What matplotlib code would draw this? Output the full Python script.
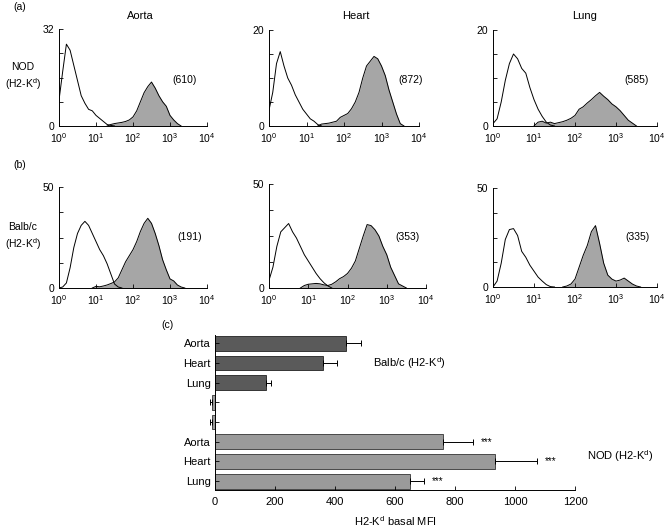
import numpy as np
import matplotlib
matplotlib.use("Agg")
import matplotlib.pyplot as plt

plt.rcParams['font.family'] = ['Liberation Sans', 'DejaVu Sans']
plt.rcParams['font.size'] = 7.5
plt.rcParams['mathtext.default'] = 'regular'

# histogram counts, one value per 0.1 log-decade channel, starting at channel `start`
a_aorta_ctrl = [8.5, 18, 27, 25, 20, 15, 10, 7.5, 5.5, 5, 3.5, 2.5, 1.5, 0.5, 0.2, 0]
a_aorta_pos = [0, 0.5, 0.8, 1.0, 1.2, 1.5, 2.0, 3.0, 5, 8, 11, 13, 14.5, 12.5, 10, 8, 6.5, 3.5, 2, 0.8, 0]
a_heart_ctrl = [3.3, 7, 13, 15.5, 12.5, 10, 8.5, 6.5, 5, 3.5, 2.5, 1.5, 1.0, 0.3, 0]
a_heart_pos = [0, 0.4, 0.5, 0.6, 0.8, 1.0, 1.8, 2.2, 2.6, 3.6, 5.0, 7.0, 10, 12.5, 13.5, 14.5, 14,
               12.5, 10.5, 7.5, 5, 2.5, 0.5, 0]
a_lung_ctrl = [0.5, 1.5, 5, 9.5, 13, 15, 14, 12, 11, 8, 5.5, 3.5, 2, 0.8, 0.2, 0]
a_lung_pos = [0, 0.8, 1.0, 0.6, 0.8, 0.5, 0.7, 0.9, 1.2, 1.6, 2.2, 3.5, 4.0, 4.8, 5.5, 6.3, 7.0,
              6.2, 5.5, 4.6, 4.0, 3.2, 2.2, 1.2, 0.6, 0]
b_aorta_ctrl = [0, 0.5, 2.5, 10, 20, 27, 31, 33, 31, 27, 23, 19, 16, 12, 7, 2, 0.5, 0]
b_aorta_pos = [0, 0.8, 0.6, 1.0, 1.5, 2.2, 3, 5, 9, 13, 16, 19, 23, 28, 32, 34.5, 32, 27, 21, 14,
               9, 4.5, 3.5, 1.5, 0.5, 0]
b_heart_ctrl = [3.7, 10, 20, 27, 29, 31, 27, 24, 20, 16, 13, 10, 7, 4.5, 2.5, 1, 0]
b_heart_pos = [0, 1.2, 1.8, 2.0, 2.2, 2.0, 1.5, 1.2, 1.8, 3.0, 4.5, 5.5, 7, 9.5, 13, 19, 25, 30.5,
               30, 28, 25, 20, 16, 10, 6, 2, 1, 0]
b_lung_ctrl = [0, 3, 12, 24, 29, 29.5, 26, 18, 15, 11, 8, 5, 3, 1.2, 0.2, 0]
b_lung_pos = [0, 0.5, 1.5, 4, 10, 16, 21, 28, 31, 22, 12, 6, 4, 3, 3.5, 4.5, 3, 1.5, 0.5, 0]

panels_a = [("Aorta", a_aorta_ctrl, 0, a_aorta_pos, 13, 32, "(610)"),
            ("Heart", a_heart_ctrl, 0, a_heart_pos, 13, 20, "(872)"),
            ("Lung", a_lung_ctrl, 0, a_lung_pos, 10, 20, "(585)")]
panels_b = [(b_aorta_ctrl, 0, b_aorta_pos, 9, 50, "(191)"),
            (b_heart_ctrl, 0, b_heart_pos, 8, 50, "(353)"),
            (b_lung_ctrl, 0, b_lung_pos, 17, 50, "(335)")]

# bar chart data
tissues = ["Aorta", "Heart", "Lung"]
balbc_mfi = [435, 360, 170]
balbc_err = [50, 48, 15]
nod_mfi = [760, 933, 650]
nod_err = [100, 140, 47]
blank_mfi = [-10, -10]
blank_err = [8, 8]

W, H = 666, 529
fig = plt.figure(figsize=(W / 100, H / 100), dpi=100)


def px_axes(x0, y0, x1, y1):
    return fig.add_axes([x0 / W, 1 - y1 / H, (x1 - x0) / W, (y1 - y0) / H])


def ftext(x, y, s, **kw):
    fig.text(x / W, 1 - y / H, s, **kw)


def channels(counts, start):
    return 10 ** ((start + np.arange(len(counts))) / 10)


def hist_axes(ax, ctrl, c0, pos, p0, ymax):
    xp = channels(pos, p0)
    ax.fill_between(xp, pos, color='#a6a6a6', lw=0)
    ax.plot(xp, pos, color='black', lw=0.7)
    ax.plot(channels(ctrl, c0), ctrl, color='black', lw=0.7)
    ax.set_xscale('log')
    ax.set_xlim(1, 1e4)
    ax.set_ylim(0, ymax)
    ax.set_xticks([1, 10, 100, 1000, 10000])
    ax.minorticks_off()
    ax.set_yticks(np.linspace(0, ymax, 5))
    ax.set_yticklabels(['0', '', '', '', str(ymax)])
    ax.tick_params(direction='in', length=3, width=0.6)
    ax.tick_params(axis='x', pad=4)
    ax.tick_params(axis='y', pad=3.5)
    for s in ['top', 'right']:
        ax.spines[s].set_visible(False)
    for s in ['left', 'bottom']:
        ax.spines[s].set_linewidth(0.7)


# row (a)
boxes_a = [(59, 29, 207, 126), (269, 30, 419, 126), (493, 30, 657, 126)]
title_x = [140, 356, 585]
label_x_a = [185, 411, 637]
for (name, ctrl, c0, pos, p0, ymax, lab), box, tx, lx in zip(panels_a, boxes_a, title_x, label_x_a):
    ax = px_axes(*box)
    hist_axes(ax, ctrl, c0, pos, p0, ymax)
    ftext(tx, 16, name, ha='center', va='center', fontsize=8)
    ftext(lx, 80, lab, ha='center', va='center')

# row (b)
boxes_b = [(59, 187, 207, 288), (269, 184, 426, 288), (493, 188, 657, 287)]
label_x_b = [190, 407, 637]
for (ctrl, c0, pos, p0, ymax, lab), box, lx in zip(panels_b, boxes_b, label_x_b):
    ax = px_axes(*box)
    hist_axes(ax, ctrl, c0, pos, p0, ymax)
    ftext(lx, 237, lab, ha='center', va='center')

ftext(20, 7, "(a)", ha='center', va='center')
ftext(20, 165, "(b)", ha='center', va='center')
ftext(23, 77, "NOD\n(H2-K$^d$)", ha='center', va='center', linespacing=1.3)
ftext(23, 237, "Balb/c\n(H2-K$^d$)", ha='center', va='center', linespacing=1.3)
ftext(168, 325, "(c)", ha='center', va='center')

# panel (c) bar chart
axc = px_axes(215, 335, 575, 490)
ypos_b = np.arange(3)
ypos_blank = np.arange(3, 5)
ypos_n = np.arange(5, 8)
hgt = 0.75
ekw = dict(ecolor='black', elinewidth=0.7, capsize=2.5, capthick=0.7)
axc.barh(ypos_b, balbc_mfi, height=hgt, color='#5a5a5a', edgecolor='#222222', lw=0.6,
         xerr=[[0] * 3, balbc_err], error_kw=ekw)
blank = axc.barh(ypos_blank, blank_mfi, height=hgt, color='#9a9a9a', edgecolor='#333333', lw=0.6,
                 xerr=[blank_err, [0] * 2], error_kw=ekw)
for p in blank.patches:
    p.set_clip_on(False)
for art in blank.errorbar.lines[1] + blank.errorbar.lines[2]:
    art.set_clip_on(False)
axc.barh(ypos_n, nod_mfi, height=hgt, color='#9a9a9a', edgecolor='#333333', lw=0.6,
         xerr=[[0] * 3, nod_err], error_kw=ekw)
for y, v, e in zip(ypos_n, nod_mfi, nod_err):
    axc.text(v + e + 25, y, "***", va='center', ha='left', fontsize=7)
axc.set_xlim(0, 1200)
axc.set_ylim(7.45, -0.42)
axc.set_xticks(np.arange(0, 1201, 200))
axc.set_yticks(np.arange(8))
axc.set_yticklabels(tissues + ['', ''] + tissues, fontsize=8)
axc.tick_params(direction='in', length=3, width=0.6, pad=3)
axc.tick_params(axis='x', labelsize=8, pad=5)
for s in ['top', 'right']:
    axc.spines[s].set_visible(False)
for s in ['left', 'bottom']:
    axc.spines[s].set_linewidth(0.7)
axc.set_xlabel("H2-K$^d$ basal MFI", fontsize=8, labelpad=5)
ftext(409, 363, "Balb/c (H2-K$^d$)", ha='center', va='center', fontsize=8)
ftext(620, 456, "NOD (H2-K$^d$)", ha='center', va='center', fontsize=8)

fig.savefig("out.png", dpi=100)
